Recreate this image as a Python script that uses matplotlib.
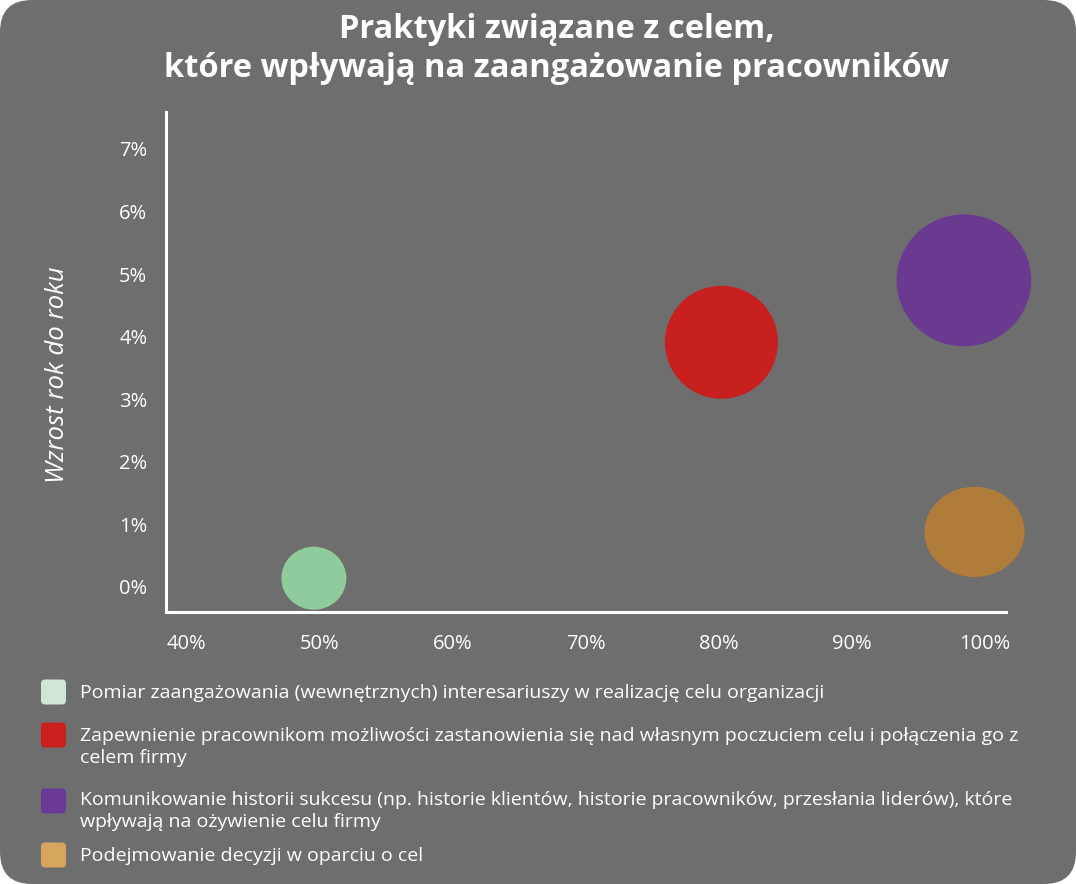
import matplotlib
matplotlib.use("Agg")
import matplotlib.pyplot as plt
from matplotlib.patches import FancyBboxPatch
from matplotlib.path import Path
from matplotlib.transforms import Affine2D
from matplotlib.ticker import FuncFormatter

# ---- data ----
categories = [
    "Pomiar zaangażowania (wewnętrznych) interesariuszy w realizację celu organizacji",
    "Zapewnienie pracownikom możliwości zastanowienia się nad własnym poczuciem celu i połączenia go z\ncelem firmy",
    "Komunikowanie historii sukcesu (np. historie klientów, historie pracowników, przesłania liderów), które\nwpływają na ożywienie celu firmy",
    "Podejmowanie decyzji w oparciu o cel",
]
x_values = [49.6, 80.2, 98.4, 99.2]      # % (x axis)
y_values = [0.14, 3.91, 4.90, 0.88]      # Wzrost rok do roku, %
bubble_sizes = [2190, 6620, 9400, 5200]
bubble_aspect = [0.97, 1.0, 0.98, 0.9]
bubble_colors = ["#8fcb9b", "#c81f1f", "#6a3a90", "#b07c3a"]
legend_colors = ["#cfe6d5", "#cc1f1f", "#6a3a96", "#d6a65e"]
x_ticks = [40, 50, 60, 70, 80, 90, 100]
y_ticks = [0, 1, 2, 3, 4, 5, 6, 7]
title = "Praktyki związane z celem,\nktóre wpływają na zaangażowanie pracowników"
y_label = "Wzrost rok do roku"

W, H = 1076, 884
BG = "#6e6e6e"
FONT = "Open Sans"

fig = plt.figure(figsize=(W / 100, H / 100), dpi=100, facecolor="white")
bg = FancyBboxPatch((0, 0), W / 100, H / 100, boxstyle="round,pad=0,rounding_size=0.32",
                    transform=fig.dpi_scale_trans, facecolor=BG, edgecolor="none", zorder=-10)
fig.patches.append(bg)

def px(x, y):
    return x / W, 1 - y / H

ax = fig.add_axes([166 / W, (H - 612) / H, 840 / W, 500 / H])
ax.set_facecolor("none")
ax.set_xlim(38.5, 101.56)
ax.set_ylim(-0.40, 7.59)

for xv, yv, s, a, c in zip(x_values, y_values, bubble_sizes, bubble_aspect, bubble_colors):
    marker = Path.unit_circle().transformed(Affine2D().scale(1.0, a))
    ax.scatter([xv], [yv], s=s, marker=marker, color=c, edgecolors="none",
               zorder=3, clip_on=False)

for side in ["top", "right"]:
    ax.spines[side].set_visible(False)
for side in ["left", "bottom"]:
    ax.spines[side].set_color("white")
    ax.spines[side].set_linewidth(2.2)

ax.set_xticks(x_ticks)
ax.set_yticks(y_ticks)
ax.xaxis.set_major_formatter(FuncFormatter(lambda v, p: f"{v:.0f}%"))
ax.yaxis.set_major_formatter(FuncFormatter(lambda v, p: f"{v:.0f}%"))
ax.tick_params(axis="both", length=0, colors="white", labelsize=14.5)
ax.tick_params(axis="x", pad=15.5)
ax.tick_params(axis="y", pad=13.5)
for lab in ax.get_xticklabels() + ax.get_yticklabels():
    lab.set_fontfamily(FONT)

fig.text(*px(58, 375), y_label, rotation=90, style="italic", color="white",
         fontsize=18.5, family=FONT, ha="center", va="center")

fig.text(*px(557, 49), title, color="white", fontsize=23.5, fontweight="bold",
         family=FONT, ha="center", va="center", linespacing=1.22)

# legend
text_top = [687, 730, 794, 850]
sw_center = [692, 735, 801, 855]
for cat, col, ty, sy in zip(categories, legend_colors, text_top, sw_center):
    sw = FancyBboxPatch((41 / 100, (H - sy - 12.5) / 100), 0.25, 0.25,
                        boxstyle="round,pad=0,rounding_size=0.04",
                        transform=fig.dpi_scale_trans, facecolor=col, edgecolor="none")
    fig.patches.append(sw)
    fig.text(*px(80, ty - 3), cat, color="white", fontsize=14, family=FONT,
             ha="left", va="top", linespacing=1.27)

fig.savefig("out.png", dpi=100, facecolor="white")
